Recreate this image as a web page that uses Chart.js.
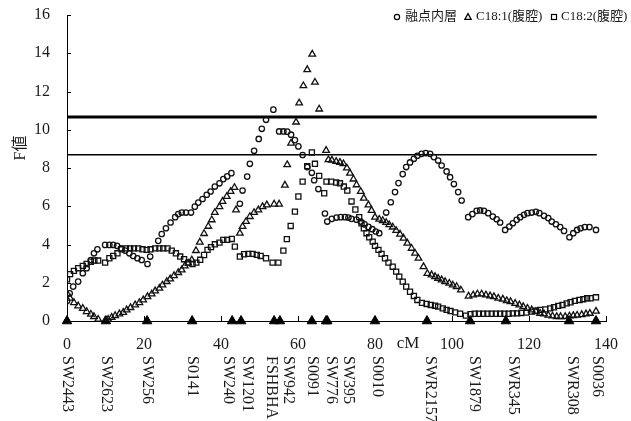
<!DOCTYPE html>
<html>
<head>
<meta charset="utf-8">
<script src="https://cdn.jsdelivr.net/npm/chart.js@4.4.1/dist/chart.umd.min.js"></script>
<style>
  html, body { margin: 0; padding: 0; background: #fff; }
  #wrap { width: 631px; height: 421px; }
</style>
</head>
<body>
<div id="wrap"><canvas id="c" width="631" height="421"></canvas></div>
<script>
// ---- QTL profile along the chromosome (position in cM, F value) ----
const meltX = [0, 0.7, 1.6, 2.9, 4.1, 5.1, 6.2, 7.0, 7.9, 9.9,
  11.0, 12.0, 13.0, 14.0, 15.1, 16.2, 17.2, 18.3, 19.4, 20.9,
  21.6, 23.7, 24.6, 25.7, 26.9, 28.1, 28.9, 29.8, 30.9, 32.2,
  33.2, 34.1, 35.2, 36.3, 37.3, 38.4, 39.6, 40.6, 41.6, 42.7,
  44.9, 45.6, 46.8, 47.5, 48.6, 49.8, 50.6, 51.7, 53.6, 55.1,
  56.2, 57.2, 58.2, 59.2, 60.1, 61.2, 62.4, 63.6, 64.2, 65.3,
  67.0, 67.6, 68.8, 70.0, 71.1, 72.2, 73.1, 73.9, 75.2, 76.3,
  77.3, 78.3, 79.3, 80.2, 81.1, 82.9, 84.1, 85.2, 86.1, 87.2,
  88.1, 89.1, 90.1, 91.0, 92.1, 93.2, 94.3, 95.3, 96.4, 97.3,
  98.6, 99.5, 100.5, 101.6, 102.5, 104.2, 105.3, 106.4, 107.3, 108.3,
  109.4, 110.6, 111.6, 112.5, 113.8, 114.9, 115.8, 116.8, 117.7, 118.7,
  119.6, 120.7, 121.8, 122.7, 123.9, 125.0, 125.9, 127.0, 128.1, 129.1,
  130.5, 131.5, 132.5, 133.4, 134.5, 135.7, 137.4];
const meltF = [1.05, 1.45, 1.8, 2.06, 2.5, 2.76, 3.19, 3.54, 3.75, 3.98,
  3.98, 3.98, 3.93, 3.8, 3.68, 3.54, 3.4, 3.28, 3.19, 2.98,
  3.37, 4.19, 4.55, 4.85, 5.15, 5.43, 5.59, 5.67, 5.67, 5.67,
  5.98, 6.19, 6.38, 6.6, 6.77, 7.03, 7.2, 7.42, 7.56, 7.73,
  6.13, 6.82, 7.55, 8.22, 8.9, 9.52, 10.05, 10.52, 11.05, 9.91,
  9.91, 9.9, 9.74, 9.46, 9.13, 8.68, 8.05, 7.75, 7.36, 6.9,
  5.62, 5.2, 5.34, 5.41, 5.43, 5.43, 5.41, 5.34, 5.3, 5.2,
  5.05, 4.92, 4.8, 4.68, 4.59, 5.67, 6.21, 6.74, 7.21, 7.68,
  8.05, 8.29, 8.48, 8.64, 8.74, 8.78, 8.74, 8.57, 8.39, 8.13,
  7.82, 7.52, 7.16, 6.74, 6.3, 5.43, 5.59, 5.76, 5.78, 5.76,
  5.64, 5.46, 5.32, 5.15, 4.76, 4.94, 5.11, 5.29, 5.43, 5.55,
  5.64, 5.67, 5.71, 5.64, 5.5, 5.38, 5.2, 5.06, 4.91, 4.71,
  4.38, 4.59, 4.76, 4.85, 4.91, 4.91, 4.76];

const c181X = [0.1, 0.8, 1.8, 2.9, 4.1, 5.1, 6.2, 7.0, 8.1, 9.9,
  10.7, 11.6, 12.5, 13.6, 14.6, 15.5, 16.5, 17.7, 18.8, 19.8,
  20.9, 22.0, 22.9, 24.0, 24.8, 25.9, 26.8, 27.8, 28.9, 29.8,
  30.6, 31.5, 32.4, 33.5, 34.5, 35.6, 36.7, 37.6, 38.4, 39.6,
  40.4, 41.5, 42.5, 43.5, 43.9, 44.9, 45.6, 46.5, 47.5, 48.6,
  49.7, 50.8, 51.9, 53.8, 55.1, 56.6, 57.2, 58.2, 59.5, 60.3,
  61.4, 62.4, 63.7, 64.4, 65.5, 67.3, 67.9, 68.8, 69.9, 70.9,
  71.8, 72.7, 73.5, 74.4, 75.2, 76.3, 77.1, 78.3, 79.1, 80.0,
  81.1, 82.0, 82.9, 83.7, 84.6, 85.5, 86.5, 87.4, 88.4, 89.5,
  90.4, 91.3, 92.6, 93.6, 94.7, 95.6, 96.4, 97.3, 98.2, 99.3,
  100.2, 101.2, 102.3, 104.3, 105.5, 106.6, 107.7, 108.8, 109.9, 110.9,
  112.0, 113.2, 114.2, 115.2, 116.4, 117.5, 118.5, 119.6, 120.7, 121.8,
  122.9, 123.9, 125.0, 126.1, 127.2, 128.2, 129.4, 130.5, 131.5, 132.5,
  133.7, 134.8, 135.8, 137.4];
const c181F = [1.4, 1.19, 0.96, 0.79, 0.66, 0.49, 0.35, 0.23, 0.09, 0.02,
  0.09, 0.19, 0.28, 0.37, 0.45, 0.58, 0.7, 0.84, 0.96, 1.1,
  1.27, 1.41, 1.57, 1.71, 1.88, 2.06, 2.2, 2.37, 2.53, 2.67,
  2.88, 3.02, 3.19, 3.68, 4.12, 4.57, 4.95, 5.29, 5.67, 5.98,
  6.25, 6.51, 6.77, 6.98, 5.81, 4.59, 4.94, 5.2, 5.46, 5.67,
  5.81, 5.98, 6.07, 6.11, 6.11, 7.1, 8.17, 9.3, 10.4, 11.4,
  12.3, 13.14, 13.95, 12.48, 11.08, 8.92, 8.43, 8.41, 8.34, 8.29,
  8.22, 8.0, 7.73, 7.42, 7.12, 6.77, 6.42, 6.07, 5.78, 5.43,
  5.32, 5.25, 5.15, 5.03, 4.91, 4.73, 4.54, 4.33, 4.07, 3.8,
  3.54, 3.28, 2.84, 2.48, 2.41, 2.32, 2.23, 2.15, 2.06, 1.97,
  1.88, 1.8, 1.62, 1.3, 1.36, 1.41, 1.41, 1.36, 1.31, 1.27,
  1.19, 1.14, 1.06, 1.01, 0.92, 0.84, 0.75, 0.66, 0.58, 0.49,
  0.4, 0.37, 0.3, 0.26, 0.23, 0.23, 0.23, 0.26, 0.28, 0.3,
  0.33, 0.37, 0.4, 0.51];

const c182X = [0.0, 0.8, 1.8, 2.9, 4.1, 5.1, 6.2, 7.1, 8.1, 9.9,
  11.0, 12.0, 13.1, 14.2, 15.3, 16.4, 17.4, 18.5, 19.6, 20.7,
  21.7, 22.9, 24.0, 25.0, 26.1, 27.2, 28.3, 29.4, 30.4, 31.5,
  32.6, 33.6, 34.6, 35.6, 36.5, 37.4, 38.4, 39.6, 40.6, 41.6,
  42.8, 43.6, 44.9, 46.0, 47.1, 48.2, 49.3, 50.3, 51.7, 53.4,
  54.9, 56.2, 57.1, 58.1, 59.2, 60.1, 61.2, 62.4, 63.6, 64.4,
  65.5, 66.8, 67.4, 68.6, 69.9, 70.9, 71.9, 72.8, 73.9, 74.9,
  75.9, 76.5, 77.1, 77.8, 78.5, 79.4, 80.0, 80.9, 81.7, 82.6,
  83.5, 84.6, 85.5, 86.3, 87.2, 88.1, 89.1, 90.1, 91.0, 92.2,
  93.4, 94.5, 95.6, 96.4, 97.6, 98.6, 99.6, 100.8, 102.1, 103.6,
  104.8, 105.9, 107.0, 108.1, 109.2, 110.3, 111.4, 112.5, 113.6, 114.7,
  115.8, 116.9, 118.0, 119.3, 120.7, 121.8, 122.9, 124.2, 125.5, 126.5,
  127.6, 128.7, 129.8, 130.8, 131.9, 133.1, 134.1, 135.1, 136.0, 137.4];
const c182F = [2.18, 2.45, 2.62, 2.76, 2.88, 2.98, 3.1, 3.16, 3.16, 3.05,
  3.28, 3.4, 3.54, 3.75, 3.8, 3.8, 3.8, 3.8, 3.75, 3.72,
  3.75, 3.8, 3.8, 3.8, 3.8, 3.68, 3.54, 3.37, 3.23, 3.05,
  2.98, 3.05, 3.2, 3.45, 3.72, 3.86, 4.01, 4.1, 4.24, 4.24,
  4.29, 3.89, 3.37, 3.49, 3.51, 3.51, 3.46, 3.4, 3.28, 3.05,
  3.05, 3.68, 4.28, 4.97, 5.72, 6.51, 7.29, 8.1, 8.81, 8.22,
  7.59, 6.68, 7.29, 7.29, 7.24, 7.2, 7.03, 6.82, 6.25, 5.83,
  5.43, 5.11, 4.85, 4.59, 4.38, 4.15, 3.93, 3.72, 3.51, 3.28,
  3.05, 2.84, 2.58, 2.32, 2.06, 1.8, 1.53, 1.31, 1.1, 0.95,
  0.89, 0.84, 0.8, 0.75, 0.66, 0.58, 0.52, 0.45, 0.38, 0.28,
  0.36, 0.38, 0.38, 0.38, 0.38, 0.38, 0.38, 0.38, 0.38, 0.38,
  0.4, 0.4, 0.42, 0.44, 0.49, 0.54, 0.58, 0.61, 0.66, 0.72,
  0.79, 0.84, 0.92, 0.98, 1.05, 1.1, 1.14, 1.19, 1.19, 1.24];

// ---- microsatellite markers on the linkage map ----
const markerNames = ['SW2443', 'SW2623', 'SW256', 'S0141', 'SW240', 'SW1201', 'FSHBHA', 'SW942',
  'S0091', 'SW776', 'SW395', 'S0010', 'SWR2157', 'SW1879', 'SWR345', 'SWR308', 'S0036'];
const markerCM = [0, 10.1, 20.8, 32.5, 42.9, 45.2, 53.8, 55.3, 63.6, 67.3, 67.6, 80.0, 93.5, 104.7, 114.0, 130.4, 137.4];

// ---- significance thresholds (F) ----
const thresholdHigh = 10.67;
const thresholdLow = 8.69;
const thresholdEnd = 137.6;

// ---- axis ticks ----
const xTicks = [0, 20, 40, 60, 80, 100, 120, 140];
const yTicks = [0, 2, 4, 6, 8, 10, 12, 14, 16];

const seriesNames = ['融点内層', 'C18:1(腹腔)', 'C18:2(腹腔)'];

const SERIF = '"Liberation Serif", "Times New Roman", "Noto Sans CJK JP", serif';
const INK = '#1b1b1b';

const pts = (xs, ys) => xs.map((x, i) => ({ x, y: ys[i] }));

// horizontal nudges (px) so crowded marker names do not collide
const labelNudge = [0, 0, 0, 0, -4, 6, -3, 8, 0, 5, 21, 2, 3, 4, 7, 3, 1];

const decor = {
  id: 'decor',
  afterDraw(chart) {
    const { ctx, chartArea: a, scales: { x, y } } = chart;
    ctx.save();
    ctx.strokeStyle = '#000';
    ctx.lineWidth = 1;
    // inward tick marks
    ctx.beginPath();
    yTicks.slice(1).forEach(v => {
      const py = Math.round(y.getPixelForValue(v)) + 0.5;
      ctx.moveTo(a.left, py); ctx.lineTo(a.left + 4, py);
    });
    xTicks.slice(1).forEach(v => {
      const px = Math.round(x.getPixelForValue(v)) + 0.5;
      ctx.moveTo(px, a.bottom); ctx.lineTo(px, a.bottom - 5);
    });
    ctx.stroke();

    // marker names, written downward
    ctx.fillStyle = INK;
    ctx.font = '16px ' + SERIF;
    ctx.textAlign = 'left';
    ctx.textBaseline = 'middle';
    markerNames.forEach((name, i) => {
      const px = x.getPixelForValue(markerCM[i]) + labelNudge[i];
      ctx.save();
      ctx.translate(px, 356);
      ctx.rotate(Math.PI / 2);
      ctx.fillText(name, 0, 0);
      ctx.restore();
    });

    // axis unit
    ctx.font = '17px ' + SERIF;
    ctx.textAlign = 'center';
    ctx.fillText('cM', 408, 344);

    // y axis title
    ctx.save();
    ctx.translate(21, 148);
    ctx.rotate(-Math.PI / 2);
    ctx.font = '16px ' + SERIF;
    ctx.fillText('F値', 0, 0);
    ctx.restore();

    // legend
    ctx.font = '13px ' + SERIF;
    ctx.textAlign = 'left';
    ctx.lineWidth = 1.2;
    const ly = 17;
    ctx.beginPath(); ctx.arc(397, ly, 2.6, 0, Math.PI * 2); ctx.stroke();
    ctx.fillText(seriesNames[0], 405, ly);
    ctx.beginPath();
    ctx.moveTo(468, ly - 3.4); ctx.lineTo(471.2, ly + 2.4); ctx.lineTo(464.8, ly + 2.4); ctx.closePath(); ctx.stroke();
    ctx.fillText(seriesNames[1], 476, ly);
    ctx.strokeRect(551.5, ly - 2.5, 5, 5);
    ctx.fillText(seriesNames[2], 561, ly);
    ctx.restore();
  }
};

const hollow = 'rgba(0,0,0,0)';

new Chart(document.getElementById('c'), {
  type: 'scatter',
  data: {
    datasets: [
      { label: seriesNames[0], data: pts(meltX, meltF), pointStyle: 'circle', pointRadius: 2.7,
        borderColor: '#111', backgroundColor: hollow, borderWidth: 1.3 },
      { label: seriesNames[1], data: pts(c181X, c181F), pointStyle: 'triangle', pointRadius: 3.8,
        borderColor: '#111', backgroundColor: hollow, borderWidth: 1.3 },
      { label: seriesNames[2], data: pts(c182X, c182F), pointStyle: 'rect', pointRadius: 3.6,
        borderColor: '#111', backgroundColor: hollow, borderWidth: 1.3 },
      { label: 'markers', data: markerCM.map(v => ({ x: v, y: 0 })), pointStyle: 'triangle', pointRadius: 5.5,
        borderColor: '#000', backgroundColor: '#000', borderWidth: 1, clip: false },
      { type: 'line', label: 'high', data: [{ x: 0, y: thresholdHigh }, { x: thresholdEnd, y: thresholdHigh }],
        borderColor: '#000', borderWidth: 3, pointRadius: 0, showLine: true },
      { type: 'line', label: 'low', data: [{ x: 0, y: thresholdLow }, { x: thresholdEnd, y: thresholdLow }],
        borderColor: '#000', borderWidth: 1.5, pointRadius: 0, showLine: true }
    ]
  },
  options: {
    responsive: false,
    animation: false,
    events: [],
    layout: { padding: { top: 15, right: 25, left: 0, bottom: 0 } },
    plugins: { legend: { display: false }, tooltip: { enabled: false } },
    scales: {
      x: {
        type: 'linear', min: 0, max: 140,
        afterBuildTicks: s => { s.ticks = xTicks.map(v => ({ value: v })); },
        afterFit: s => { s.height = 100; },
        grid: { display: false, drawTicks: true, tickLength: 11 },
        border: { display: true, color: '#000', width: 1 },
        ticks: { color: INK, font: { family: SERIF, size: 16 }, padding: 3, maxRotation: 0 }
      },
      y: {
        type: 'linear', min: 0, max: 16,
        afterBuildTicks: s => { s.ticks = yTicks.map(v => ({ value: v })); },
        afterFit: s => { s.width = 67; },
        grid: { display: false, drawTicks: true, tickLength: 14 },
        border: { display: true, color: '#000', width: 1 },
        ticks: { color: INK, font: { family: SERIF, size: 16 }, padding: 3 }
      }
    }
  },
  plugins: [decor]
});
</script>
</body>
</html>
